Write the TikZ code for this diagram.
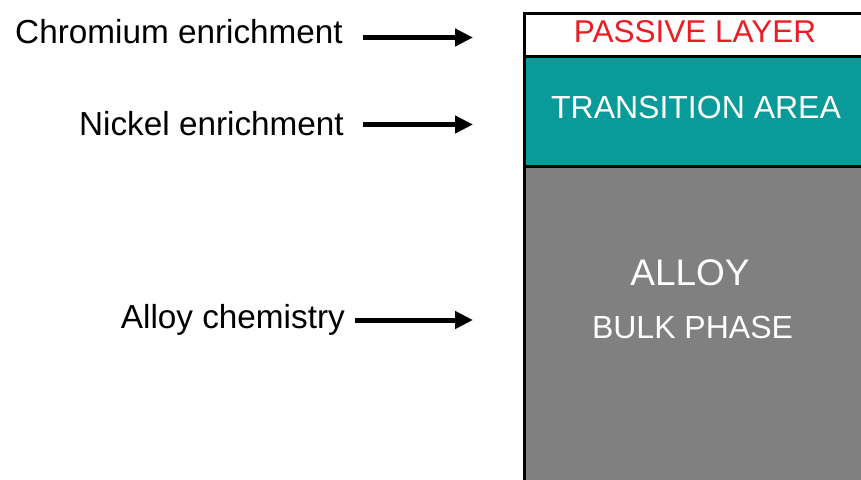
\documentclass[tikz,border=0pt]{standalone}
\usepackage{fontspec}
\setmainfont{Liberation Sans}
\usetikzlibrary{arrows.meta}
\definecolor{teal}{RGB}{8,155,153}
\definecolor{bulkgray}{RGB}{127,128,127}
\definecolor{passred}{RGB}{237,28,36}
\tikzset{
  layer/.style={draw=black, line width=3pt, anchor=north west, inner sep=0pt, minimum width=350pt},
  lab/.style={anchor=base east, inner sep=0pt, font=\fontsize{33.3}{40}\selectfont},
  intext/.style={anchor=base, inner sep=0pt},
  arr/.style={line width=5pt, -{Triangle[length=18pt,width=17pt]}}
}
\begin{document}
\begin{tikzpicture}[x=1pt,y=-1pt]
\useasboundingbox (0,0) rectangle (861,479);
\clip (0,0) rectangle (861,479);
% layers
\node[layer, fill=bulkgray, minimum height=330pt] (bulk) at (522.5,165) {};
\node[layer, fill=teal, minimum height=110.5pt] (trans) at (522.5,54.5) {};
\node[layer, fill=white, minimum height=42.5pt] (passive) at (522.5,12) {};
% texts inside
\node[intext, text=passred, font=\fontsize{31.5}{38}\selectfont] (tpass) at (695,42) {PASSIVE LAYER};
\node[intext, text=white, font=\fontsize{32}{38}\selectfont] (ttrans) at (696,118) {TRANSITION AREA};
\node[intext, text=white, font=\fontsize{37}{44}\selectfont] (talloy) at (690,285.5) {ALLOY};
\node[intext, text=white, font=\fontsize{32}{38}\selectfont] (tbulk) at (692.5,338) {BULK PHASE};
% labels
\node[lab] (lcr) at (343,43) {Chromium enrichment};
\node[lab] (lni) at (344,135) {Nickel enrichment};
\node[lab] (lal) at (345,328) {Alloy chemistry};
% arrow ends
\coordinate (ecr) at (473,37.5);
\coordinate (eni) at (473,124.5);
\coordinate (eal) at (473,320);
\coordinate (scr) at (363,37.5);
\coordinate (sni) at (363,124.5);
\coordinate (sal) at (355,320);
\draw[arr] (scr) -- (ecr);
\draw[arr] (sni) -- (eni);
\draw[arr] (sal) -- (eal);
\end{tikzpicture}
\end{document}
